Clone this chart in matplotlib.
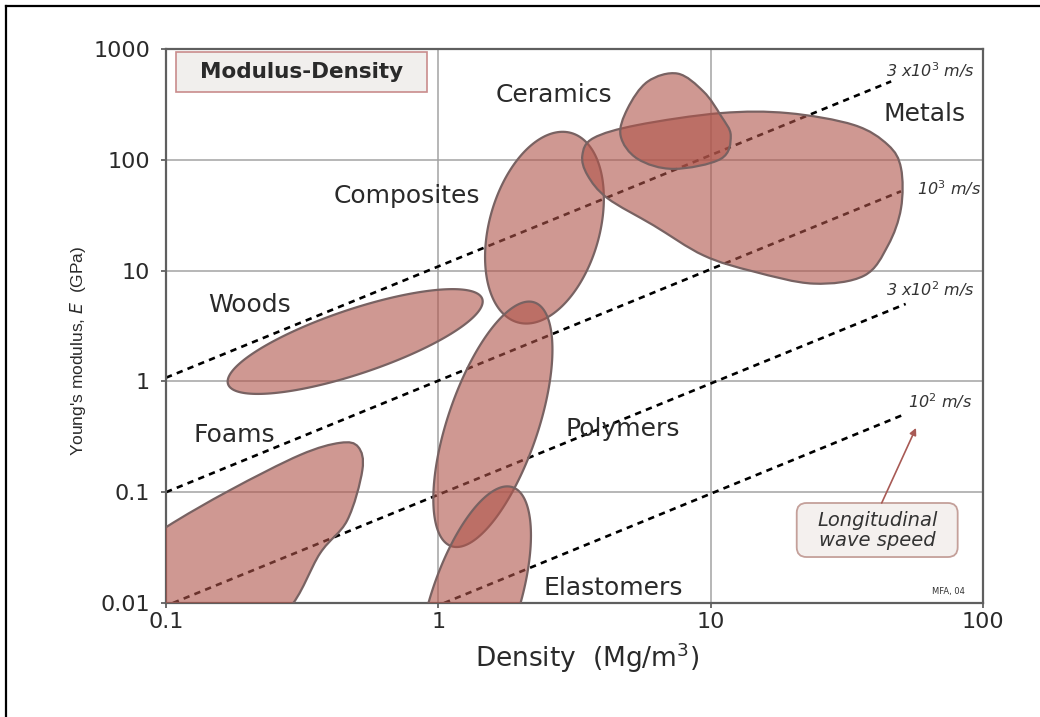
#!/usr/bin/env python3
"""Modulus-density (Ashby) chart: material envelopes with wave-speed guide lines."""

import matplotlib
matplotlib.use('Agg')
import matplotlib.pyplot as plt
import numpy as np
from matplotlib.lines import Line2D
from matplotlib.patches import FancyBboxPatch, PathPatch
from matplotlib.path import Path

# Axis ticks
DENSITY_TICKS = [0.1, 1, 10, 100]
DENSITY_LABELS = ['0.1', '1', '10', '100']
MODULUS_TICKS = [0.01, 0.1, 1, 10, 100, 1000]
MODULUS_LABELS = ['0.01', '0.1', '1', '10', '100', '1000']

# Elliptical envelopes (density Mg/m3, modulus GPa):
# centre, one end of the long axis, and width/length ratio
ELLIPSE_NAMES = ['Woods', 'Composites', 'Polymers', 'Elastomers']
ELLIPSE_CENTER_RHO = [0.495, 2.453, 1.586, 1.356]
ELLIPSE_CENTER_E = [2.29, 24.4, 0.41, 0.00989]
ELLIPSE_TIP_RHO = [1.45, 3.076, 2.254, 1.871]
ELLIPSE_TIP_E = [5.55, 174.6, 5.16, 0.111]
ELLIPSE_RATIO = [0.24, 0.56, 0.35, 0.36]

# Free-form envelopes, outline points
FOAMS_RHO = [0.279, 0.368, 0.463, 0.526, 0.508, 0.436, 0.311, 0.172, 0.1, 0.0678, 0.0622, 0.172]
FOAMS_E = [0.00855, 0.0281, 0.0558, 0.158, 0.256, 0.279, 0.217, 0.1045, 0.0483, 0.0243, 0.00457, 0.00372]

CERAMICS_RHO = [7.56, 9.42, 10.9, 11.85, 10.9, 7.31, 5.39, 4.67, 4.95, 5.87]
CERAMICS_E = [600, 412, 250, 165, 102, 82.8, 102, 165, 289, 508]

METALS_RHO = [3.38, 3.71, 5.39, 10.9, 19.2, 33.6, 44.8, 50, 50, 44.8, 36.6, 23.9, 14.4, 9.42, 6.17, 4.18, 3.53]
METALS_E = [110, 157, 206, 264, 264, 206, 136, 84, 36.5, 16.9, 9.0, 7.63, 9.8, 13.7, 25.6, 45, 72.6]

# Longitudinal wave speed guide lines (end points)
WAVE_LABELS = ['3 x10$^3$ m/s', '10$^3$ m/s', '3 x10$^2$ m/s', '10$^2$ m/s']
WAVE_RHO = [(0.1, 46), (0.1, 50), (0.106, 52), (1.05, 51)]
WAVE_E = [(1.08, 510), (0.1, 52), (0.01, 5.0), (0.01, 0.5)]

FILL = (0.69, 0.33, 0.29, 0.6)
EDGE = '#786262'
TEXT = '#2a2a2a'


def smooth_path(rho, mod):
    """Closed smooth outline (Catmull-Rom as cubic Bezier) in log-log space."""
    pts = np.column_stack([np.log10(rho), np.log10(mod)])
    n = len(pts)
    verts = [pts[0]]
    codes = [Path.MOVETO]
    for i in range(n):
        p0, p1, p2, p3 = pts[i - 1], pts[i], pts[(i + 1) % n], pts[(i + 2) % n]
        verts += [p1 + (p2 - p0) / 6, p2 - (p3 - p1) / 6, p2]
        codes += [Path.CURVE4] * 3
    verts.append(pts[0])
    codes.append(Path.CLOSEPOLY)
    return Path(10 ** np.array(verts), codes)


def ellipse_path(ax, c_rho, c_e, t_rho, t_e, ratio):
    """Ellipse as seen on the log-log axes (round in screen space)."""
    sx = ax.bbox.width / 3.0   # pixels per decade
    sy = ax.bbox.height / 5.0
    c = np.array([np.log10(c_rho) * sx, np.log10(c_e) * sy])
    u = np.array([np.log10(t_rho) * sx, np.log10(t_e) * sy]) - c
    v = ratio * np.array([-u[1], u[0]])
    t = np.linspace(0, 2 * np.pi, 181)
    pts = c + np.outer(np.cos(t), u) + np.outer(np.sin(t), v)
    return Path(10 ** (pts / [sx, sy]), closed=True)


def main():
    fig = plt.figure(figsize=(10.4, 7.17), dpi=100)
    ax = fig.add_axes([166 / 1040, 1 - 603 / 717, 817 / 1040, 554 / 717])
    ax.set_xscale('log')
    ax.set_yscale('log')

    # guide lines
    for (r0, r1), (e0, e1) in zip(WAVE_RHO, WAVE_E):
        ax.plot([r0, r1], [e0, e1], color='black', lw=1.9,
                linestyle=(0, (2.4, 2.0)), zorder=2, solid_capstyle='butt')

    # material envelopes
    paths = [smooth_path(FOAMS_RHO, FOAMS_E)]
    for i in range(len(ELLIPSE_NAMES)):
        paths.append(ellipse_path(ax, ELLIPSE_CENTER_RHO[i], ELLIPSE_CENTER_E[i],
                                  ELLIPSE_TIP_RHO[i], ELLIPSE_TIP_E[i],
                                  ELLIPSE_RATIO[i]))
    paths.append(smooth_path(METALS_RHO, METALS_E))
    paths.append(smooth_path(CERAMICS_RHO, CERAMICS_E))
    for p in paths:
        ax.add_patch(PathPatch(p, facecolor=FILL, edgecolor=EDGE, lw=1.6,
                               zorder=3))

    ax.set_xlim(0.1, 100)
    ax.set_ylim(0.01, 1000)
    ax.set_xticks(DENSITY_TICKS)
    ax.set_xticklabels(DENSITY_LABELS)
    ax.set_yticks(MODULUS_TICKS)
    ax.set_yticklabels(MODULUS_LABELS)
    ax.minorticks_off()
    ax.tick_params(axis='both', labelsize=16, colors='#555555',
                   labelcolor=TEXT, length=3.5, width=1.2)
    ax.tick_params(axis='y', pad=8)
    ax.tick_params(axis='x', pad=3)
    ax.grid(True, which='major', color='#a3a3a3', lw=1.1)
    ax.set_axisbelow(True)
    for sp in ax.spines.values():
        sp.set_color('#5f5f5f')
        sp.set_linewidth(1.6)

    ax.set_xlabel('Density  (Mg/m$^3$)', fontsize=19, color=TEXT, va='top')
    ax.xaxis.set_label_coords(0.515, -0.068)
    ax.set_ylabel("Young's modulus, $\\it{E}$  (GPa)", fontsize=12.5,
                  color=TEXT, family='Liberation Sans')
    ax.yaxis.set_label_coords(-0.095, 0.455)

    # category labels
    cats = [('Ceramics', 0.475, 0.917), ('Metals', 0.928, 0.882),
            ('Composites', 0.295, 0.735), ('Woods', 0.102, 0.538),
            ('Foams', 0.084, 0.304), ('Polymers', 0.559, 0.314),
            ('Elastomers', 0.547, 0.027)]
    for name, x, y in cats:
        ax.text(x, y, name, transform=ax.transAxes, fontsize=18, color=TEXT,
                ha='center', va='center', zorder=6)

    # wave speed labels
    for lab, x, y in zip(WAVE_LABELS, [0.990, 0.998, 0.990, 0.987],
                         [0.962, 0.749, 0.567, 0.365]):
        ax.text(x, y, lab, transform=ax.transAxes, fontsize=11.5,
                style='italic', color='#333333', ha='right', va='center',
                zorder=6)

    # title box
    ax.add_patch(FancyBboxPatch((0.0122, 0.9224), 0.3073, 0.0722,
                                transform=ax.transAxes,
                                boxstyle='square,pad=0', facecolor='#f1efed',
                                edgecolor='#c98c8c', lw=1.2, zorder=6))
    ax.text(0.166, 0.9585, 'Modulus-Density', transform=ax.transAxes,
            fontsize=15.5, fontweight='bold', color=TEXT, ha='center',
            va='center', zorder=7)

    box = FancyBboxPatch((0.772, 0.083), 0.197, 0.0975, transform=ax.transAxes,
                         boxstyle='round,pad=0,rounding_size=0.012',
                         mutation_aspect=817 / 554, facecolor='#f4f0ee',
                         edgecolor='#c4a09a', lw=1.3, zorder=6)
    ax.add_patch(box)
    ax.text(0.871, 0.131, 'Longitudinal\nwave speed', transform=ax.transAxes,
            fontsize=14, style='italic', color='#333333', ha='center',
            va='center', linespacing=1.05, zorder=7)
    ax.annotate('', xy=(0.918, 0.316), xytext=(0.876, 0.1805),
                xycoords='axes fraction', textcoords='axes fraction',
                arrowprops=dict(arrowstyle='-|>', color='#a85a55', lw=1.2,
                                mutation_scale=10, shrinkA=0, shrinkB=0),
                zorder=6)
    ax.text(0.958, 0.012, 'MFA, 04', transform=ax.transAxes, fontsize=6,
            color='#333333', ha='center', va='bottom', zorder=6)

    # outer frame
    fx, fy = 6 / 1040, 1 - 6 / 717
    fig.add_artist(Line2D([fx, fx], [0, fy], color='black', lw=1.6))
    fig.add_artist(Line2D([fx, 1], [fy, fy], color='black', lw=1.6))

    fig.savefig('out.png', dpi=100, facecolor='white')
    plt.close(fig)


if __name__ == '__main__':
    main()
